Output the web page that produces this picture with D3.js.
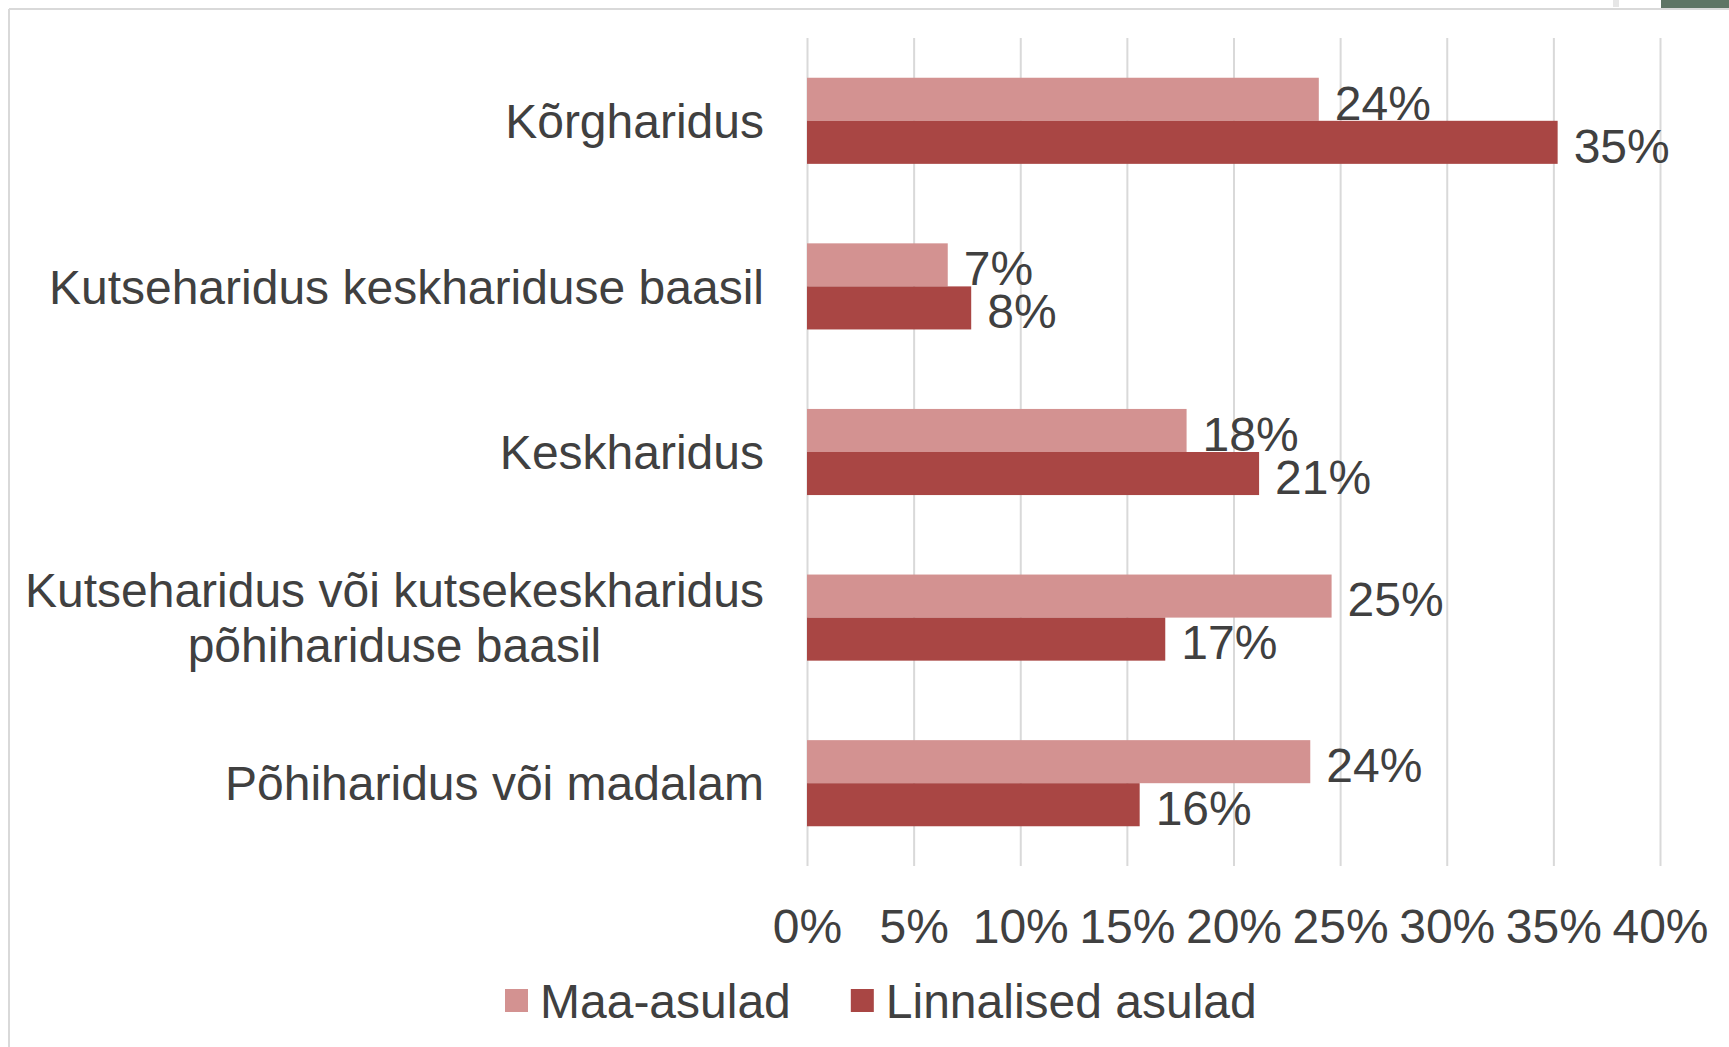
<!DOCTYPE html>
<html>
<head>
<meta charset="utf-8">
<script src="https://cdn.jsdelivr.net/npm/d3@7"></script>
<style>
  body { margin: 0; background: #fff; }
  svg { display: block; }
  text { font-family: "Liberation Sans", Arial, sans-serif; fill: #404040; }
</style>
</head>
<body>
<div class="horizontal-bar-chart"></div>
<script>
// categories top -> bottom, \n marks a line break in the label
const categories = [
  "Kõrgharidus",
  "Kutseharidus keskhariduse baasil",
  "Keskharidus",
  "Kutseharidus või kutsekeskharidus\npõhihariduse baasil",
  "Põhiharidus või madalam"
];
const seriesNames = ["Maa-asulad", "Linnalised asulad"];
const maaValues = [0.240, 0.066, 0.178, 0.246, 0.236];
const linnValues = [0.352, 0.077, 0.212, 0.168, 0.156];
const tickValues = [0, 0.05, 0.10, 0.15, 0.20, 0.25, 0.30, 0.35, 0.40];
const colors = ["#d39291", "#a94644"];

const formatPct = d3.format(".0%");

document.addEventListener("DOMContentLoaded", () => {
  drawChart();
});

function drawChart() {
  const width = 1729, height = 1047;
  const plot = { left: 807, right: 1660, top: 38, bottom: 866 };
  const fontSize = 48;

  const svg = d3.select(".horizontal-bar-chart")
    .append("svg")
    .attr("width", width)
    .attr("height", height);

  // frame bits of the screenshot
  svg.append("line")
    .attr("x1", 9).attr("x2", width).attr("y1", 9).attr("y2", 9)
    .attr("stroke", "#d9d9d9").attr("stroke-width", 2);
  svg.append("line")
    .attr("x1", 9).attr("x2", 9).attr("y1", 9).attr("y2", height)
    .attr("stroke", "#d9d9d9").attr("stroke-width", 2);
  svg.append("rect")
    .attr("x", 1661).attr("y", 0).attr("width", width - 1661).attr("height", 8)
    .attr("fill", "#5e7565");
  svg.append("rect")
    .attr("x", 1613).attr("y", 0).attr("width", 6).attr("height", 7)
    .attr("fill", "#e6e6e6");

  const x = d3.scaleLinear()
    .domain([0, 0.4])
    .range([plot.left, plot.right]);

  const y = d3.scaleBand()
    .domain(categories)
    .range([plot.top, plot.bottom])
    .paddingInner(0.48)
    .paddingOuter(0.24);

  const ySub = d3.scaleBand()
    .domain(seriesNames)
    .range([0, y.bandwidth()]);

  // gridlines + tick labels
  const xAxis = svg.append("g")
    .attr("class", "x-axis")
    .attr("transform", "translate(0," + plot.bottom + ")")
    .call(d3.axisBottom(x)
      .tickValues(tickValues)
      .tickSize(-(plot.bottom - plot.top))
      .tickPadding(43)
      .tickFormat(formatPct));
  xAxis.select(".domain").remove();
  xAxis.selectAll("line").attr("stroke", "#d9d9d9").attr("stroke-width", 2);
  xAxis.selectAll("text")
    .attr("font-size", fontSize)
    .attr("fill", "#404040");
  xAxis.attr("font-family", null).attr("font-size", null);

  const data = categories.map((c, i) => ({
    name: c,
    values: [
      { series: seriesNames[0], value: maaValues[i] },
      { series: seriesNames[1], value: linnValues[i] }
    ]
  }));

  // bars
  const groups = svg.selectAll(".cat")
    .data(data).enter().append("g")
    .attr("class", "cat")
    .attr("transform", d => "translate(0," + y(d.name) + ")");

  groups.selectAll(".bar")
    .data(d => d.values)
    .join("rect")
    .attr("class", "bar")
    .attr("x", x(0))
    .attr("y", d => ySub(d.series))
    .attr("width", d => x(d.value) - x(0))
    .attr("height", ySub.bandwidth())
    .attr("fill", (d, i) => colors[i]);

  // value labels
  groups.selectAll(".label")
    .data(d => d.values)
    .join("text")
    .attr("class", "label")
    .attr("x", d => x(d.value) + 16)
    .attr("y", d => ySub(d.series) + ySub.bandwidth() / 2 + 3)
    .attr("dy", "0.36em")
    .attr("font-size", fontSize)
    .text(d => formatPct(d.value));

  // category labels, right edge at labelRight, multi-line centred as a block
  const labelRight = 764;
  const lineGap = 55;
  groups.each(function (d) {
    const lines = d.name.split("\n");
    const t = d3.select(this).append("text")
      .attr("class", "cat-label")
      .attr("font-size", fontSize)
      .attr("text-anchor", "middle");
    lines.forEach((line, i) => {
      t.append("tspan")
        .attr("y", y.bandwidth() / 2 + (i - (lines.length - 1) / 2) * lineGap)
        .attr("dy", "0.36em")
        .text(line);
    });
    let maxW = 0;
    t.selectAll("tspan").each(function () {
      maxW = Math.max(maxW, this.getComputedTextLength());
    });
    t.selectAll("tspan").attr("x", labelRight - maxW / 2);
  });

  // legend
  const legend = svg.append("g")
    .attr("class", "legend")
    .attr("transform", "translate(505,1001)");
  let lx = 0;
  seriesNames.forEach((name, i) => {
    const item = legend.append("g").attr("transform", "translate(" + lx + ",0)");
    item.append("rect")
      .attr("x", 0).attr("y", -12)
      .attr("width", 23).attr("height", 23)
      .attr("fill", colors[i]);
    const txt = item.append("text")
      .attr("x", 35)
      .attr("dy", "0.36em")
      .attr("font-size", fontSize)
      .text(name);
    lx += 35 + txt.node().getComputedTextLength() + 60;
  });

  return svg;
}
</script>
</body>
</html>
